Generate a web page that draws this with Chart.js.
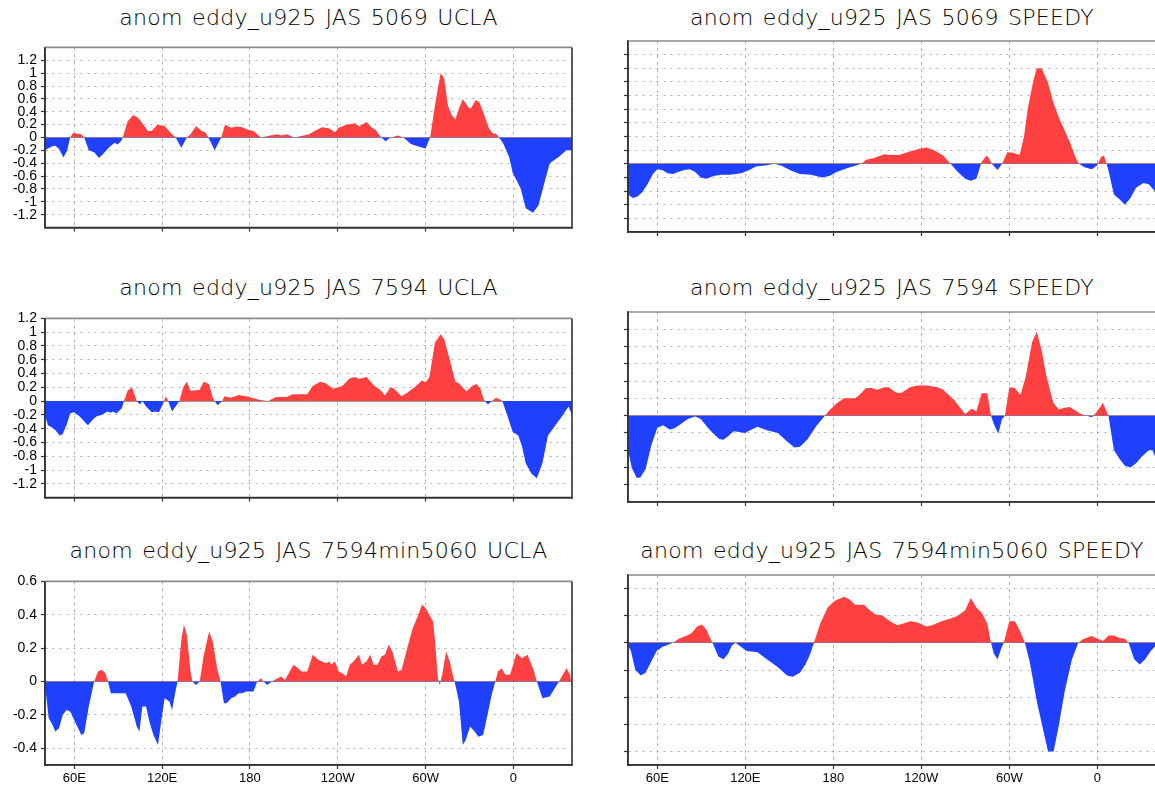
<!DOCTYPE html>
<html>
<head>
<meta charset="utf-8">
<script src="https://cdn.jsdelivr.net/npm/chart.js@4.4.0/dist/chart.umd.min.js"></script>
<style>
html,body{margin:0;padding:0;background:#fff;overflow:hidden;width:1155px;height:790px;position:relative;}
.ttl{position:absolute;width:600px;text-align:center;font-family:'DejaVu Sans';font-weight:200;font-size:22px;letter-spacing:0.3px;word-spacing:2px;color:#000;line-height:26px;white-space:nowrap;}
canvas{position:absolute;}
</style>
</head>
<body>
<script>
// ---------------- data ----------------
const xTickValues = [60, 120, 180, 240, 300, 360];
const xTickLabels = ['60E', '120E', '180', '120W', '60W', '0'];

const yTicksA1 = [-1.2,-1,-0.8,-0.6,-0.4,-0.2,0,0.2,0.4,0.6,0.8,1,1.2];
const yTicksB1 = [-1.2,-1,-0.8,-0.6,-0.4,-0.2,0,0.2,0.4,0.6,0.8,1,1.2];
const yTicksC1 = [-0.4,-0.2,0,0.2,0.4,0.6];
const yTicksA2 = [-0.8,-0.6,-0.4,-0.2,0,0.2,0.4,0.6,0.8,1,1.2,1.4,1.6];
const yTicksB2 = [-0.8,-0.6,-0.4,-0.2,0,0.2,0.4,0.6,0.8,1];
const yTicksC2 = [-0.4,-0.3,-0.2,-0.1,0,0.1,0.2];

// UCLA 5069
const lonA1 = [40,44.6,47.1,49.6,52.6,55.2,57.2,59.2,64.8,66.8,69.9,73.6,76.9,80,83.8,87.6,89.6,92.1,93.1,96.4,100.2,104,107.8,110.3,112.9,116.7,121.7,126.8,129.3,133.1,136.9,139.4,143.2,147,149.5,151.6,155.9,160.4,162.9,167.2,171,174.8,178.6,182.4,187.5,193.8,198.9,201.4,205.2,210.3,216.6,220.4,224.2,229.2,234.3,238.1,240.6,245.7,252,254.5,259.6,263.4,265.9,269.7,272.7,276,281.1,284.9,289.9,295,300,303.1,306.4,310.2,312.7,315.2,317.8,320.3,322.8,325.4,329.2,330.9,334.2,336.7,339.3,343.1,345.6,348.1,350.2,353.2,357,359.5,362.5,365,368.4,373.4,377.2,380,384.8,391.1,396.2,400];
const valA1 = [-0.2,-0.14,-0.13,-0.18,-0.31,-0.2,0,0.07,0.05,0,-0.2,-0.23,-0.32,-0.25,-0.15,-0.08,-0.11,-0.05,0,0.25,0.35,0.3,0.18,0.1,0.1,0.2,0.18,0.05,0,-0.16,0,0.05,0.18,0.1,0.08,0,-0.2,0,0.2,0.15,0.17,0.16,0.12,0.1,0,0.03,0.05,0.03,0.05,0,0.03,0.05,0.1,0.16,0.14,0.08,0.15,0.2,0.22,0.17,0.24,0.15,0.12,0,-0.06,0,0.03,0,-0.1,-0.14,-0.17,0,0.5,1.0,0.92,0.5,0.35,0.28,0.45,0.6,0.47,0.45,0.58,0.55,0.4,0.15,0.07,0.06,0,-0.1,-0.3,-0.55,-0.68,-0.8,-1.1,-1.17,-1.05,-0.8,-0.4,-0.3,-0.2,-0.2];

// UCLA 7594
const lonB1 = [40,42,44.6,47,50,52,54.7,57.2,59.7,63.5,69.3,73.6,75.4,78.7,82.5,85,86.3,88.8,92.6,93.9,96.4,99.4,102.7,104.8,106.5,109,112.9,115.4,117.9,120.4,121.2,122.5,124.2,126.8,131.8,134.4,136.9,139.4,145.7,148.3,152.1,154.6,155.9,157.9,161,162.7,167.2,172.3,177.4,186.2,192.5,197.6,205.2,209,219.1,222.9,228,231.8,236.8,243.1,248.2,252,254.5,259.6,264.6,269.7,272.2,276,278.5,283.6,287.4,292.5,297.5,300,302.6,306.4,310.2,312.7,316.5,320.3,322.8,327.9,331.7,334.7,337.5,339.3,340.5,342.6,345.1,348.1,351.2,352.4,355.7,359.5,363.3,365.8,368.4,372.2,376,379.8,383.6,388.7,393.8,397.6,400];
const valB1 = [-0.2,-0.35,-0.38,-0.42,-0.5,-0.48,-0.35,-0.18,-0.16,-0.22,-0.35,-0.25,-0.22,-0.2,-0.15,-0.17,-0.15,-0.18,-0.1,0,0.15,0.2,0,-0.05,0,-0.08,-0.16,-0.15,-0.16,-0.05,0,0.07,0,-0.15,0,0.2,0.28,0.15,0.16,0.28,0.25,0.05,0,-0.06,0,0.07,0.05,0.09,0.07,0.02,0,0.06,0.06,0.1,0.1,0.22,0.28,0.26,0.18,0.22,0.33,0.35,0.32,0.35,0.23,0.15,0.08,0.2,0.18,0.07,0.12,0.2,0.3,0.27,0.35,0.85,0.97,0.9,0.6,0.28,0.26,0.14,0.22,0.25,0.18,0.05,0,-0.05,0,0.05,0.02,0,-0.2,-0.45,-0.5,-0.65,-0.9,-1.05,-1.12,-0.9,-0.5,-0.35,-0.2,-0.08,-0.2];

// UCLA 7594min5060
const lonC1 = [40,42.5,44.6,47.1,49.6,52.1,54.7,57.2,61,64.8,66.8,69.9,73.6,76.2,78.7,81.3,83,85,90.1,95.1,98.9,102.7,104.5,106.5,109,111.6,114.1,117.2,119.2,121.7,125,126.8,129.3,130.6,133.1,134.9,136.9,139.4,140.7,143.2,145.7,148.3,152.1,154.6,157.6,159.9,162.2,164,167.2,169.8,172.3,174.8,177.4,182.4,185,187.5,189.3,191.8,195.1,198.9,201.4,203.9,206.5,209.7,212.8,215.3,219.1,222.9,226.7,231.8,234.3,235.5,238.1,240.6,243.1,245.7,248.2,250.7,254.5,256.5,259.6,262.1,264.6,267.2,269.7,272.2,274.8,277.3,281.1,283.6,287.4,291.2,295,297.5,300,302.6,305.1,306.4,308.4,309.7,311.5,314,316.5,319.1,319.8,322.8,325.4,327.4,330.4,333.5,336,339.3,341.8,345.1,347.6,349.4,351.9,354.5,357.7,362.1,365.8,369.6,373.4,376,379.8,384.8,391.1,396.2,398.7,400];
const valC1 = [-0.02,-0.22,-0.25,-0.3,-0.28,-0.2,-0.17,-0.18,-0.25,-0.32,-0.31,-0.15,0,0.06,0.07,0.05,0,-0.07,-0.07,-0.07,-0.15,-0.27,-0.3,-0.15,-0.15,-0.25,-0.32,-0.38,-0.25,-0.1,-0.12,-0.17,-0.05,0,0.25,0.34,0.28,0.06,0,-0.02,0,0.15,0.3,0.24,0.08,0,-0.13,-0.13,-0.1,-0.09,-0.07,-0.07,-0.06,-0.06,0,0.02,0,-0.02,0,0.02,0.03,0.01,0.05,0.1,0.08,0.06,0.06,0.16,0.13,0.11,0.12,0.1,0.12,0.06,0.05,0.03,0.1,0.12,0.16,0.1,0.12,0.16,0.1,0.1,0.15,0.16,0.22,0.18,0.06,0.07,0.2,0.32,0.4,0.46,0.44,0.4,0.36,0.25,0.02,-0.02,0.05,0.18,0.12,0.02,0,-0.12,-0.38,-0.35,-0.27,-0.3,-0.33,-0.32,-0.22,-0.08,0,0.06,0.08,0.04,0.04,0.17,0.14,0.16,0.08,0,-0.1,-0.09,0,0.08,0.04,-0.03];

// SPEEDY 5069
const lonA2 = [40,43.3,46.5,49.5,53.3,57,60,63.3,67,70.8,74,78.3,82,85.8,89.6,93.3,98.4,103.4,109.6,117.1,122.1,127.2,134.7,139.7,144.7,151,157.2,164.7,172.3,177.2,182.2,189.8,196,199.3,202.3,207.3,214.8,218.6,224.8,232.3,238.6,243.6,248.6,254.9,259.9,264.9,269.9,273.7,277.5,280,281.2,284.4,286.2,288,292,295,298.7,302.5,307,310,312.5,316.2,318.7,322,326.2,330,333.8,337.5,341.3,345,347.5,351.3,356.3,360,362.5,364.5,366.3,367.6,371.3,375.1,378.8,382.6,386.4,391.4,395.1,400];
const valA2 = [-0.45,-0.5,-0.48,-0.42,-0.3,-0.15,-0.08,-0.09,-0.14,-0.15,-0.12,-0.09,-0.08,-0.12,-0.2,-0.22,-0.18,-0.16,-0.16,-0.14,-0.1,-0.04,-0.02,0,-0.03,-0.1,-0.15,-0.16,-0.2,-0.18,-0.12,-0.06,-0.02,0,0.06,0.08,0.14,0.13,0.13,0.18,0.22,0.24,0.2,0.12,0,-0.12,-0.22,-0.25,-0.22,-0.05,0.03,0.12,0.08,0,-0.09,0,0.17,0.16,0.13,0.4,0.8,1.2,1.4,1.4,1.2,0.9,0.68,0.5,0.32,0.1,0,-0.05,-0.08,-0.02,0.1,0.12,0,-0.1,-0.45,-0.52,-0.6,-0.5,-0.35,-0.28,-0.3,-0.42];

// SPEEDY 7594
const lonB2 = [40,42.5,45.8,48.3,52,55.8,60,64,68.3,71.5,75.8,80.8,85.8,89.6,95.9,102.1,105.1,108.3,112,115.8,119.6,123.3,128.3,134.7,142.2,148.5,153.5,157.2,162.2,168.4,174.2,177.2,182.2,187.2,191,194.7,197.2,202.3,206,209.8,214.8,217.8,222.3,226,232.3,237.3,243.6,251.1,254.9,262.4,266.1,269.9,274.4,277.5,281.2,285,287.5,289.5,292.5,295,297,300,303.8,307.6,311.2,315.5,318.7,322,325.4,330,333.8,337.5,341.3,345,348.8,352.6,356.3,360,363.8,367.6,371.3,375.1,378.8,382.6,386.4,390.1,395.1,397.6,400];
const valB2 = [-0.4,-0.6,-0.72,-0.72,-0.62,-0.35,-0.14,-0.11,-0.16,-0.15,-0.1,-0.04,-0.01,-0.04,-0.17,-0.27,-0.28,-0.24,-0.18,-0.19,-0.2,-0.17,-0.13,-0.17,-0.2,-0.3,-0.37,-0.36,-0.28,-0.12,0,0.06,0.14,0.2,0.2,0.2,0.23,0.32,0.32,0.3,0.33,0.33,0.27,0.26,0.33,0.35,0.35,0.33,0.3,0.18,0.1,0.02,0.08,0.05,0.26,0.26,0,-0.1,-0.21,-0.04,0,0.33,0.32,0.24,0.45,0.85,0.97,0.76,0.45,0.15,0.07,0.09,0.1,0.06,0.02,0,-0.02,0.05,0.15,0,-0.4,-0.5,-0.58,-0.6,-0.55,-0.48,-0.4,-0.4,-0.5];

// SPEEDY 7594min5060
const lonC2 = [40,42,45,48.8,52,55.8,59.5,63.3,68.3,70.8,74.5,79.5,83.3,87.1,90.3,93.3,95.8,97.6,101.6,105.1,108.3,110.8,113.4,115.8,120.9,128.3,134.7,142.2,148.5,152.3,157.2,161,164.3,166.8,171,176.1,181,187.3,191.1,194.8,201,204.8,208.6,213.6,218.6,223.6,227.3,232.3,237.3,243.6,247.4,253.7,260,264.9,269.9,273.7,277.5,281.3,285,287.5,289.5,292,294.5,296.2,300,303.8,307.6,310.6,313.9,318.9,323.9,326.4,330.2,333.9,337.7,342.7,347,350.2,356,360.2,364,367.6,371.3,375.1,378.8,381.3,385.1,388.9,392.6,396.4,400];
const valC2 = [-0.01,-0.03,-0.1,-0.12,-0.11,-0.07,-0.03,-0.015,-0.005,0,0.015,0.025,0.035,0.06,0.068,0.05,0.02,0,-0.05,-0.06,-0.04,-0.01,0,-0.01,-0.03,-0.035,-0.06,-0.09,-0.12,-0.125,-0.11,-0.08,-0.04,0,0.07,0.13,0.155,0.17,0.16,0.14,0.14,0.12,0.105,0.1,0.08,0.065,0.07,0.08,0.075,0.06,0.065,0.08,0.09,0.1,0.12,0.165,0.13,0.11,0.07,0,-0.04,-0.06,-0.02,0,0.08,0.08,0.04,0,-0.07,-0.22,-0.34,-0.4,-0.4,-0.3,-0.18,-0.06,0,0.013,0.025,0.015,0.007,0.027,0.027,0.018,0.015,0,-0.06,-0.08,-0.06,-0.03,-0.01];

// ---------------- layout / style ----------------
const RED = 'rgb(255,64,64)';
const BLUE = 'rgb(32,64,255)';

const panels = [
  {title:'anom eddy_u925 JAS 5069 UCLA', lon:lonA1, val:valA1, yMin:-1.4, yMax:1.4, yTicks:yTicksA1, col:0, row:0},
  {title:'anom eddy_u925 JAS 5069 SPEEDY', lon:lonA2, val:valA2, yMin:-1.0, yMax:1.8, yTicks:yTicksA2, col:1, row:0},
  {title:'anom eddy_u925 JAS 7594 UCLA', lon:lonB1, val:valB1, yMin:-1.4, yMax:1.2, yTicks:yTicksB1, col:0, row:1},
  {title:'anom eddy_u925 JAS 7594 SPEEDY', lon:lonB2, val:valB2, yMin:-1.0, yMax:1.2, yTicks:yTicksB2, col:1, row:1},
  {title:'anom eddy_u925 JAS 7594min5060 UCLA', lon:lonC1, val:valC1, yMin:-0.5, yMax:0.6, yTicks:yTicksC1, col:0, row:2},
  {title:'anom eddy_u925 JAS 7594min5060 SPEEDY', lon:lonC2, val:valC2, yMin:-0.45, yMax:0.25, yTicks:yTicksC2, col:1, row:2}
];
const colGeom = [
  {canvasLeft:0, plotLeft:45, plotRight:572, rightPad:8, yLabels:true},
  {canvasLeft:583, plotLeft:628, plotRight:1156, rightPad:0, yLabels:false}
];
const rowGeom = [
  {top:41, bottom:232, titleTop:5, xAxisH:8, xLabels:false},
  {top:312, bottom:502, titleTop:275, xAxisH:8, xLabels:false},
  {top:575, bottom:765, titleTop:538, xAxisH:26, xLabels:true}
];
const PADT = 6;

const framePlugin = {
  id: 'frame',
  afterDatasetsDraw(chart) {
    const {ctx, chartArea: a} = chart;
    ctx.save();
    ctx.setLineDash([]);
    ctx.lineWidth = 1.6;
    ctx.strokeStyle = '#8a8a8a';
    ctx.beginPath(); ctx.moveTo(a.left, a.top); ctx.lineTo(a.right, a.top); ctx.stroke();
    ctx.strokeStyle = '#333';
    ctx.beginPath();
    ctx.moveTo(a.left, a.top); ctx.lineTo(a.left, a.bottom); ctx.lineTo(a.right, a.bottom); ctx.lineTo(a.right, a.top);
    ctx.stroke();
    ctx.restore();
  }
};

function fmt(v) { return String(Math.round(v * 100) / 100); }

panels.forEach((p) => {
  const cg = colGeom[p.col], rg = rowGeom[p.row];
  const w = cg.plotRight - cg.canvasLeft + cg.rightPad;
  const h = PADT + (rg.bottom - rg.top) + rg.xAxisH;
  const yAxisW = cg.plotLeft - cg.canvasLeft;

  const t = document.createElement('div');
  t.className = 'ttl';
  t.textContent = p.title;
  t.style.left = ((cg.plotLeft + cg.plotRight) / 2 - 300) + 'px';
  t.style.top = rg.titleTop + 'px';
  document.body.appendChild(t);

  const c = document.createElement('canvas');
  c.width = w; c.height = h;
  c.style.left = cg.canvasLeft + 'px';
  c.style.top = (rg.top - PADT) + 'px';
  c.style.width = w + 'px'; c.style.height = h + 'px';
  document.body.appendChild(c);

  const n = Math.min(p.lon.length, p.val.length);
  const pts = [];
  for (let i = 0; i < n; i++) pts.push({x: p.lon[i], y: p.val[i]});

  const yTicks = p.yTicks;
  new Chart(c.getContext('2d'), {
    type: 'line',
    data: {
      datasets: [{
        data: pts,
        borderWidth: 0,
        borderColor: 'rgba(0,0,0,0)',
        pointRadius: 0,
        tension: 0,
        fill: {target: {value: 0}, above: RED, below: BLUE}
      }]
    },
    options: {
      responsive: false,
      animation: false,
      devicePixelRatio: 1,
      events: [],
      layout: {padding: {top: PADT, right: cg.rightPad, left: 0, bottom: 0}},
      plugins: {legend: {display: false}, tooltip: {enabled: false}, title: {display: false}},
      scales: {
        x: {
          type: 'linear', min: 40, max: 400,
          afterBuildTicks: (ax) => { ax.ticks = xTickValues.map(v => ({value: v})); },
          afterFit: (ax) => { ax.height = rg.xAxisH; },
          ticks: {
            display: rg.xLabels, autoSkip: false, maxRotation: 0, minRotation: 0, padding: 2,
            color: '#000', font: {family: 'Liberation Sans', size: 13},
            callback: (v) => xTickLabels[xTickValues.indexOf(v)]
          },
          grid: {color: '#b0b0b0', lineWidth: 1, drawTicks: true, tickLength: 4, tickColor: '#333', tickWidth: 1.2},
          border: {display: true, color: '#333', width: 1.5, dash: [3, 4]}
        },
        y: {
          type: 'linear', min: p.yMin, max: p.yMax,
          afterBuildTicks: (ax) => { ax.ticks = yTicks.map(v => ({value: v})); },
          afterFit: (ax) => { ax.width = yAxisW; },
          ticks: {
            display: cg.yLabels, autoSkip: false, padding: 4,
            color: '#000', font: {family: 'Liberation Sans', size: 14},
            callback: (v) => fmt(v)
          },
          grid: {
            color: (ctx) => (ctx.tick && Math.abs(ctx.tick.value) < 1e-9) ? '#9a9a9a' : '#b0b0b0',
            lineWidth: 1, drawTicks: true, tickLength: 4, tickColor: '#333', tickWidth: 1.2
          },
          border: {
            display: true, color: '#333', width: 1.5,
            dash: (ctx) => (ctx.tick && Math.abs(ctx.tick.value) < 1e-9) ? [] : [2, 5]
          }
        }
      }
    },
    plugins: [framePlugin]
  });
});
</script>
</body>
</html>
